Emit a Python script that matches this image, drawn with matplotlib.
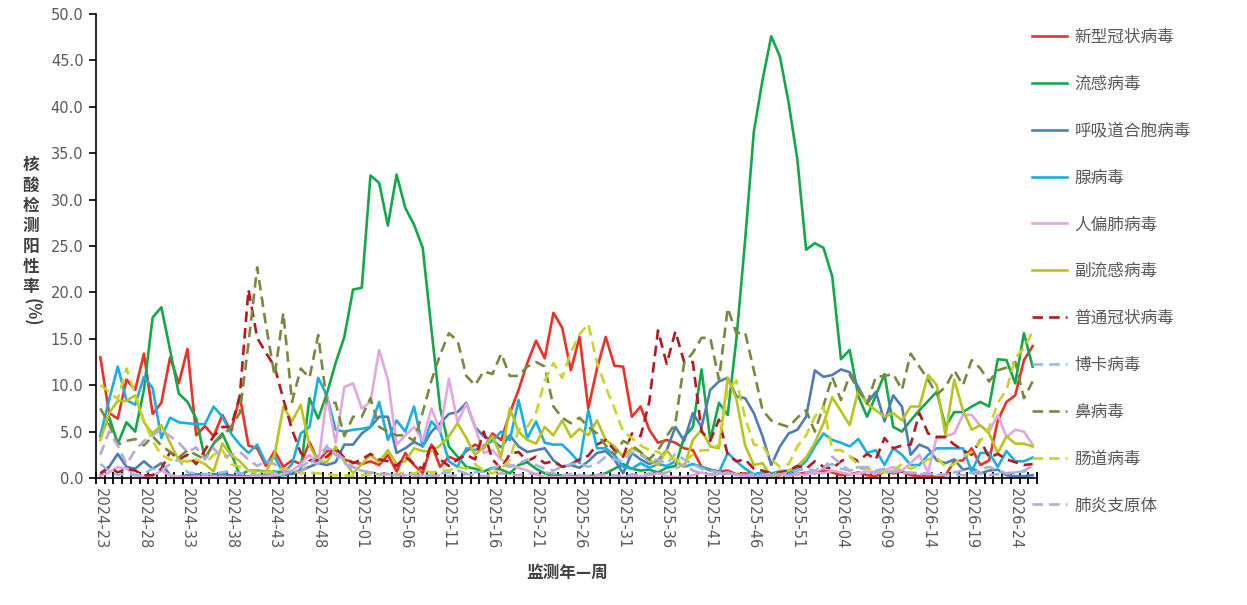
import numpy as np
import matplotlib
matplotlib.use("Agg")
import matplotlib.pyplot as plt

plt.rcParams['font.family'] = ['Noto Sans CJK SC', 'DejaVu Sans']

# week labels 2024-23 .. 2026-26
weeks = []
for yr, w0, w1 in [(2024, 23, 52), (2025, 1, 52), (2026, 1, 26)]:
    for w in range(w0, w1 + 1):
        weeks.append("%d-%02d" % (yr, w))

covid = [13.0, 7.0, 6.4, 10.6, 9.5, 13.4, 6.9, 8.1, 13.0, 10.2,
         13.9, 4.6, 5.6, 4.5, 6.8, 5.0, 8.8, 3.5, 3.2, 1.3,
         2.9, 1.2, 1.9, 1.5, 3.9, 1.8, 2.9, 3.0, 2.0, 1.7,
         1.5, 1.8, 1.4, 2.5, 0.7, 2.7, 1.4, 0.5, 3.6, 1.2,
         2.3, 1.9, 2.9, 3.6, 3.2, 4.8, 4.1, 7.0, 9.5, 12.4,
         14.8, 12.9, 17.8, 16.2, 11.6, 15.2, 7.5, 11.8, 15.2, 12.1,
         12.0, 6.6, 7.7, 5.2, 3.8, 4.1, 3.8, 3.2, 3.0, 1.2,
         0.9, 0.7, 0.8, 0.4, 0.5, 0.3, 0.3, 0.2, 0.3, 0.5,
         0.4, 0.6, 0.5, 0.8, 0.6, 0.3, 0.4, 0.6, 0.3, 0.2,
         0.7, 0.5, 0.7, 0.3, 0.2, 0.2, 0.1, 0.3, 1.8, 1.9,
         3.2, 1.4, 1.9, 6.2, 8.2, 8.9, 12.7, 14.2]
flu = [4.5, 6.6, 3.7, 6.0, 5.0, 9.5, 17.3, 18.4, 13.8, 9.1,
       8.2, 6.4, 2.1, 3.7, 4.8, 2.7, 0.3, 0.8, 0.8, 0.7,
       0.7, 0.6, 0.4, 0.9, 8.6, 6.4, 9.1, 12.4, 15.2, 20.3,
       20.5, 32.6, 31.8, 27.2, 32.7, 29.1, 27.3, 24.8, 16.0, 7.5,
       3.4, 2.3, 1.2, 1.0, 0.7, 1.1, 0.9, 0.5, 1.4, 1.7,
       1.0, 0.5, 0.3, 0.3, 0.2, 0.2, 0.2, 0.3, 0.5, 1.0,
       1.5, 1.0, 0.8, 0.9, 0.6, 1.1, 1.3, 4.4, 5.5, 11.7,
       4.1, 8.1, 6.8, 15.0, 25.6, 37.3, 42.9, 47.6, 45.4, 40.4,
       34.3, 24.6, 25.3, 24.8, 21.7, 12.8, 13.8, 8.8, 6.6, 8.9,
       11.2, 5.5, 5.0, 6.2, 7.3, 8.3, 9.3, 5.5, 7.1, 7.1,
       7.7, 8.2, 7.7, 12.8, 12.7, 10.2, 15.6, 12.0]
rsv = [0.3, 1.2, 2.6, 1.2, 1.0, 1.8, 1.0, 1.6, 0.3, 0.1,
       0.3, 0.4, 0.4, 0.4, 0.4, 0.3, 0.2, 0.2, 0.2, 0.3,
       0.2, 0.3, 0.5, 0.8, 1.2, 1.6, 1.4, 1.7, 3.6, 3.6,
       4.8, 5.5, 6.6, 6.6, 2.7, 3.2, 3.9, 3.4, 5.0, 5.9,
       6.9, 7.1, 8.1, 5.5, 4.5, 4.1, 3.3, 4.6, 3.4, 2.8,
       3.0, 3.2, 1.9, 1.2, 1.4, 1.1, 1.8, 2.7, 2.9, 2.0,
       0.5, 2.7, 2.0, 1.5, 1.9, 3.0, 5.5, 4.0, 7.0, 5.5,
       9.5, 10.4, 10.8, 8.8, 8.6, 7.0, 4.5, 1.4, 3.4, 4.8,
       5.2, 6.6, 11.6, 10.9, 11.1, 11.7, 11.4, 9.8, 8.0, 9.3,
       6.1, 8.9, 7.7, 2.5, 3.6, 3.2, 1.9, 1.6, 2.0, 0.9,
       1.1, 0.5, 0.8, 0.9, 0.3, 0.2, 0.2, 0.3]
adeno = [4.6, 8.4, 12.0, 8.4, 7.9, 10.9, 9.7, 4.3, 6.5, 6.0,
         5.9, 5.8, 5.8, 7.7, 6.6, 4.8, 3.6, 2.7, 3.6, 1.6,
         2.3, 0.5, 1.5, 4.8, 5.5, 10.8, 8.9, 5.2, 5.0, 5.2,
         5.3, 5.5, 8.2, 4.1, 6.2, 5.0, 7.7, 3.4, 6.1, 5.0,
         1.8, 1.2, 3.2, 3.0, 3.5, 4.0, 5.0, 4.1, 8.4, 4.3,
         6.1, 3.8, 3.6, 3.6, 2.7, 1.6, 7.3, 3.2, 3.2, 2.5,
         1.2, 1.0, 1.6, 1.1, 1.5, 1.3, 1.8, 1.2, 1.5, 1.2,
         0.8, 0.6, 2.7, 1.8, 1.0, 0.4, 0.6, 0.5, 0.7, 0.6,
         1.0, 1.8, 3.4, 4.8, 4.1, 3.8, 3.4, 4.2, 2.7, 3.0,
         1.4, 3.2, 2.5, 1.4, 1.4, 2.5, 3.2, 3.2, 3.2, 3.2,
         0.7, 2.7, 2.7, 1.2, 2.9, 1.8, 1.8, 2.2]
hmpv = [0.2, 0.6, 1.2, 1.0, 0.3, 0.1, 0.2, 0.8, 0.3, 0.1,
        0.1, 0.1, 0.1, 0.1, 0.1, 0.1, 0.1, 0.1, 0.2, 0.2,
        0.3, 0.4, 0.8, 1.5, 2.5, 1.5, 8.8, 3.8, 9.8, 10.2,
        7.5, 8.2, 13.8, 10.6, 3.6, 4.6, 5.5, 4.0, 7.5, 5.0,
        10.7, 6.0, 8.0, 5.5, 2.7, 3.0, 2.0, 1.4, 1.1, 0.8,
        0.4, 0.1, 0.1, 0.1, 0.1, 0.1, 0.1, 0.1, 0.1, 0.1,
        0.1, 0.2, 0.2, 0.3, 0.5, 0.2, 0.1, 0.1, 0.3, 0.6,
        0.3, 0.4, 0.6, 0.3, 0.2, 0.1, 0.1, 0.2, 0.4, 0.2,
        0.4, 0.3, 0.6, 0.5, 0.8, 0.6, 0.4, 0.5, 0.7, 0.5,
        0.8, 1.2, 0.8, 1.6, 2.5, 0.6, 4.5, 4.5, 4.8, 6.8,
        6.8, 5.6, 5.0, 6.8, 4.4, 5.2, 5.0, 3.6]
paraflu = [4.1, 7.0, 8.3, 8.3, 8.9, 6.0, 4.8, 5.7, 3.8, 1.9,
           1.8, 1.9, 1.5, 0.7, 3.7, 2.5, 1.8, 0.8, 0.8, 0.6,
           2.5, 7.7, 6.1, 7.9, 3.5, 1.8, 1.7, 3.4, 1.8, 0.5,
           1.5, 2.5, 1.7, 3.0, 1.5, 1.8, 3.2, 2.9, 2.9, 3.5,
           4.5, 5.9, 4.3, 2.5, 3.3, 4.5, 2.3, 7.5, 5.0, 4.1,
           3.7, 5.5, 4.6, 6.2, 4.4, 5.3, 4.6, 6.2, 4.1, 3.4,
           2.3, 3.2, 2.8, 1.9, 1.4, 3.0, 1.8, 1.2, 4.1, 5.2,
           3.4, 3.2, 10.8, 8.5, 3.5, 1.4, 1.6, 0.1, 0.8, 0.8,
           1.3, 2.2, 3.8, 5.9, 8.7, 7.2, 5.7, 9.5, 8.0, 7.3,
           6.6, 7.0, 6.2, 7.7, 7.7, 11.1, 10.0, 4.6, 10.6, 7.3,
           5.2, 5.7, 4.8, 2.7, 4.5, 3.7, 3.7, 3.4]
hcov = [0.5, 1.2, 0.6, 1.0, 0.8, 0.3, 0.3, 1.0, 2.8, 2.0,
        2.5, 1.5, 3.0, 4.5, 5.5, 5.5, 8.8, 20.3, 15.1, 13.5,
        12.0, 8.5, 5.2, 2.7, 1.9, 1.9, 2.3, 3.2, 2.2, 1.6,
        2.0, 2.6, 2.0, 1.8, 1.3, 2.3, 1.5, 1.0, 3.7, 2.0,
        1.3, 2.0, 2.5, 2.0, 5.0, 2.0, 1.0, 2.6, 2.8, 1.8,
        2.3, 1.6, 1.8, 1.2, 1.5, 2.0, 2.4, 3.6, 4.1, 3.0,
        2.3, 4.8, 4.5, 8.2, 15.9, 12.3, 15.8, 12.5, 12.5, 5.0,
        4.0, 6.3, 2.5, 1.8, 2.0, 1.0, 0.8, 0.5, 0.6, 0.8,
        1.3, 1.0, 1.8, 1.2, 1.0, 1.8, 2.3, 1.8, 2.6, 2.0,
        4.3, 3.2, 3.5, 3.6, 7.0, 4.8, 4.4, 4.4, 3.6, 3.0,
        2.5, 4.1, 2.2, 2.6, 2.0, 1.7, 1.4, 1.5]
boca = [1.5, 0.8, 0.3, 0.5, 0.3, 0.5, 1.0, 0.8, 1.5, 2.0,
        0.6, 0.5, 0.4, 0.5, 0.6, 0.8, 0.5, 0.4, 0.3, 0.5,
        0.6, 0.5, 0.8, 1.2, 1.8, 1.5, 3.5, 2.5, 1.6, 1.0,
        0.8, 0.5, 0.4, 0.3, 0.3, 0.4, 0.3, 0.2, 0.3, 0.5,
        0.6, 0.8, 0.5, 0.6, 0.7, 1.0, 1.5, 1.2, 1.6, 2.0,
        1.4, 1.0, 0.8, 1.2, 1.5, 1.6, 1.2, 1.5, 2.3, 2.0,
        1.8, 2.8, 2.5, 1.8, 2.0, 1.5, 2.6, 2.0, 1.5, 1.0,
        0.8, 0.6, 0.5, 0.4, 0.3, 0.4, 0.3, 0.5, 0.4, 0.6,
        0.8, 1.0, 0.8, 1.2, 1.5, 1.0, 0.8, 1.2, 0.8, 0.6,
        0.5, 0.8, 0.5, 0.6, 0.4, 0.5, 0.3, 0.4, 0.6, 0.8,
        0.5, 0.9, 1.2, 0.8, 0.5, 0.6, 0.7, 1.0]
rhino = [7.5, 5.8, 3.6, 4.0, 4.2, 3.5, 4.5, 3.5, 2.8, 2.2,
         3.0, 2.5, 2.0, 3.8, 4.5, 5.5, 7.0, 14.5, 22.7, 16.5,
         11.0, 17.8, 8.2, 11.8, 10.8, 15.4, 8.1, 8.1, 4.5, 6.6,
         6.6, 8.6, 5.5, 5.0, 4.6, 4.6, 4.0, 7.1, 10.5, 13.3,
         15.6, 14.8, 11.0, 10.0, 11.5, 11.2, 13.4, 11.0, 11.0, 12.0,
         12.5, 12.0, 7.7, 6.5, 5.9, 6.5, 5.5, 4.8, 3.5, 2.5,
         4.0, 3.5, 2.8, 2.0, 3.0, 4.5, 5.9, 12.4, 13.5, 15.1,
         15.1, 10.6, 18.3, 15.6, 15.7, 11.6, 7.3, 6.2, 5.8, 5.5,
         6.5, 7.3, 5.0, 7.8, 10.9, 8.4, 11.1, 9.5, 8.0, 10.9,
         11.0, 11.2, 9.5, 13.4, 12.0, 10.6, 9.0, 9.8, 11.6, 10.0,
         12.7, 11.8, 10.4, 11.6, 11.9, 12.5, 8.6, 10.4]
entero = [10.0, 9.3, 8.5, 11.8, 9.0, 6.2, 4.0, 2.5, 2.0, 1.8,
          1.8, 2.0, 1.5, 2.5, 3.0, 1.5, 1.2, 0.8, 0.5, 0.6,
          0.8, 1.0, 0.8, 0.5, 0.6, 0.5, 0.4, 0.3, 0.3, 0.2,
          0.3, 0.4, 0.3, 0.5, 0.4, 0.6, 0.5, 0.8, 0.6, 0.8,
          0.8, 1.2, 1.0, 1.5, 0.8, 0.5, 1.0, 2.0, 5.2, 5.5,
          7.0, 10.5, 12.4, 10.8, 13.5, 15.5, 16.6, 12.4, 9.8, 7.5,
          5.0, 4.3, 3.5, 3.0, 2.8, 2.2, 2.0, 1.8, 2.5, 3.0,
          3.0, 3.6, 9.5, 10.5, 6.5, 3.6, 3.5, 2.0, 1.2, 1.5,
          3.4, 4.6, 6.6, 7.7, 3.0, 3.0, 2.4, 1.4, 1.0, 0.8,
          0.6, 0.8, 1.5, 1.0, 1.4, 2.0, 2.2, 1.2, 1.5, 2.3,
          2.8, 4.0, 5.4, 8.1, 9.5, 12.9, 14.0, 15.8]
myco = [2.5, 5.0, 3.5, 1.5, 3.0, 4.0, 4.6, 5.2, 4.5, 3.8,
        2.8, 3.3, 2.0, 3.2, 2.2, 2.5, 2.8, 2.0, 1.3, 1.8,
        1.5, 0.8, 0.6, 0.7, 1.5, 2.5, 3.3, 2.8, 2.0, 1.2,
        0.8, 0.6, 0.5, 0.4, 0.3, 0.3, 0.2, 0.3, 0.2, 0.3,
        0.2, 0.3, 0.4, 0.3, 0.2, 0.3, 0.5, 0.4, 0.3, 0.5,
        0.4, 0.6, 0.5, 0.3, 0.4, 0.3, 0.2, 0.3, 0.4, 0.3,
        0.2, 0.4, 0.3, 0.5, 0.4, 0.6, 1.0, 1.5, 0.8, 0.5,
        0.4, 0.3, 0.5, 0.4, 0.3, 0.2, 0.3, 0.2, 0.4, 0.3,
        0.5, 0.6, 0.8, 1.0, 2.3, 1.5, 0.8, 1.0, 1.2, 0.8,
        1.0, 0.6, 0.8, 0.5, 0.6, 0.4, 0.5, 0.3, 0.4, 0.3,
        0.4, 0.5, 0.3, 0.4, 0.5, 0.6, 0.8, 1.3]

series = [
    ("新型冠状病毒", covid, "#EC3127", "-"),
    ("流感病毒", flu, "#14A84B", "-"),
    ("呼吸道合胞病毒", rsv, "#4E7DB8", "-"),
    ("腺病毒", adeno, "#1BAEE5", "-"),
    ("人偏肺病毒", hmpv, "#E2A8DE", "-"),
    ("副流感病毒", paraflu, "#B9C41E", "-"),
    ("普通冠状病毒", hcov, "#B51A22", "--"),
    ("博卡病毒", boca, "#9CB8E2", "--"),
    ("鼻病毒", rhino, "#778A3E", "--"),
    ("肠道病毒", entero, "#C9D42A", "--"),
    ("肺炎支原体", myco, "#B9A8D4", "--"),
]

fig = plt.figure(figsize=(12.47, 6.05), dpi=100)
ax = fig.add_axes([96 / 1247, 127 / 605, 941 / 1247, 464 / 605])

x = np.arange(len(weeks))
handles = []
for name, vals, col, ls in series:
    if ls == "--":
        ln, = ax.plot(x, vals, color=col, lw=1.9, dashes=(4, 2.3), label=name)
    else:
        ln, = ax.plot(x, vals, color=col, lw=1.9, label=name)
    handles.append(ln)

ax.set_xlim(-0.5, len(weeks) - 0.5)
ax.set_ylim(0, 50)
ax.set_yticks(np.arange(0, 50.1, 5))
ax.set_yticklabels(["%.1f" % v for v in np.arange(0, 50.1, 5)])

ax.set_xticks(x[::5])
ax.set_xticklabels(weeks[::5], rotation=-90)
ax.set_xticks(np.arange(-0.5, len(weeks), 1), minor=True)

for s in ["top", "right"]:
    ax.spines[s].set_visible(False)
for s in ["left", "bottom"]:
    ax.spines[s].set_color("black")
    ax.spines[s].set_linewidth(1.2)

ax.tick_params(axis="y", direction="out", length=5, width=1.2, pad=4,
               labelsize=10.5, labelcolor="#595959", color="black")
ax.tick_params(axis="x", which="major", length=0, pad=7,
               labelsize=10.5, labelcolor="#595959")
ax.tick_params(axis="x", which="minor", direction="inout", length=8,
               width=1.3, color="black")
for lab in ax.get_xticklabels() + ax.get_yticklabels():
    lab.set_family(["DejaVu Sans"])

# axis titles
ytitle = "核酸检测阳性率"
for k, ch in enumerate(ytitle):
    fig.text(31 / 1247, 1 - (165 + 20.4 * k) / 605, ch, ha="center", va="center",
             fontsize=12, fontweight="bold", color="#404040")
fig.text(31 / 1247, 1 - 312 / 605, "(%)", ha="center", va="center",
         rotation=-90, fontsize=12, fontweight="bold", color="#404040")
fig.text(567 / 1247, 1 - 573 / 605, "监测年—周", ha="center", va="center",
         fontsize=12, fontweight="bold", color="#404040")

fig.legend(handles=handles, loc="upper left",
           bbox_to_anchor=(1032 / 1247, 1 - 29 / 605), frameon=False,
           fontsize=12, labelcolor="#595959", handlelength=2.1,
           handletextpad=0.45, labelspacing=1.79, borderpad=0,
           borderaxespad=0)

fig.savefig("out.png", dpi=100)
